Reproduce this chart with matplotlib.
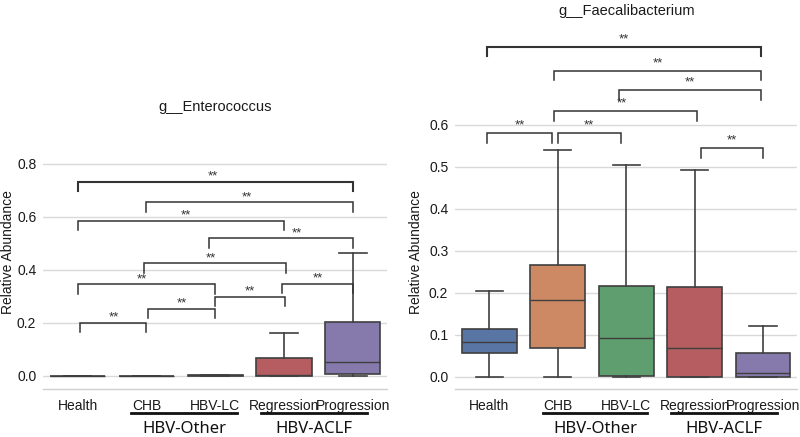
import numpy as np
import matplotlib.pyplot as plt
import matplotlib.transforms as mtransforms
import seaborn as sns

plt.rcParams['font.family'] = ['Liberation Sans', 'DejaVu Sans']

groups = ['Health', 'CHB', 'HBV-LC', 'Regression', 'Progression']

# g__Enterococcus (box summary)
ent_whislo = [0.0, 0.0, 0.0, 0.0, 0.0]
ent_q1 = [0.0, 0.0, 0.001, 0.0, 0.007]
ent_med = [0.0, 0.0, 0.002, 0.003, 0.053]
ent_q3 = [0.0, 0.0, 0.003, 0.068, 0.205]
ent_whishi = [0.0, 0.0, 0.003, 0.162, 0.463]

# g__Faecalibacterium
fae_whislo = [0.0, 0.0, 0.0, 0.0, 0.0]
fae_q1 = [0.056, 0.068, 0.002, 0.001, 0.001]
fae_med = [0.083, 0.183, 0.092, 0.070, 0.010]
fae_q3 = [0.115, 0.267, 0.217, 0.213, 0.056]
fae_whishi = [0.205, 0.540, 0.505, 0.493, 0.121]

# significance brackets: pair of groups, bar height
ent_pairs = [(0, 4), (1, 4), (0, 3), (2, 4), (1, 3), (0, 2), (3, 4), (2, 3), (1, 2), (0, 1)]
ent_heights = [0.733, 0.654, 0.585, 0.520, 0.425, 0.346, 0.347, 0.299, 0.253, 0.201]
ent_nudge = [(0, 0), (0, 0), (0, 0), (-0.09, 0), (-0.03, 0.03), (0, 0), (-0.03, 0), (0, 0.02), (0.02, 0), (0.03, -0.01)]
ent_star_dx = [-0.03, -0.04, 0.07, 0.23, -0.06, -0.06, 0, 0, 0, 0.01]

fae_pairs = [(0, 4), (1, 4), (2, 4), (1, 3), (0, 1), (1, 2), (3, 4)]
fae_heights = [0.786, 0.729, 0.683, 0.633, 0.580, 0.580, 0.544]
fae_nudge = [(-0.03, -0.03), (-0.05, -0.03), (-0.1, -0.03), (-0.05, 0.04), (-0.03, -0.09), (0.0, -0.08), (0.09, 0.0)]
fae_star_dx = [0, 0, 0, -0.06, 0, 0, 0]
sig_label = '**'

group_names = ['HBV-Other', 'HBV-ACLF']
group_span = [(0.78, 2.31), (2.66, 4.2)]
group_center = [1.55, 3.43]

palette = [sns.desaturate(c, 0.75) for c in sns.color_palette('deep', 5)]
edge = '#3f3f3f'

fig = plt.figure(figsize=(8, 4.37), dpi=100)
ax1 = fig.add_axes([0.054, 0.110, 0.430, 0.616])
ax2 = fig.add_axes([0.569, 0.110, 0.4275, 0.8375])


def draw_panel(ax, title, whislo, q1, med, q3, whishi, ylim, yticks,
               pairs, heights, nudge, star_dx, star_off, label_x, label_y):
    stats = []
    for i in range(len(groups)):
        stats.append(dict(whislo=whislo[i], q1=q1[i], med=med[i], q3=q3[i],
                          whishi=whishi[i], fliers=[]))
    bp = ax.bxp(stats, positions=np.arange(len(groups)), widths=0.8,
                patch_artist=True, showfliers=False,
                boxprops=dict(edgecolor=edge, linewidth=1.2),
                medianprops=dict(color=edge, linewidth=1.0),
                whiskerprops=dict(color=edge, linewidth=1.2),
                capprops=dict(color=edge, linewidth=1.2))
    for patch, c in zip(bp['boxes'], palette):
        patch.set_facecolor(c)

    ax.set_xlim(-0.5, len(groups) - 0.5)
    ax.set_ylim(*ylim)
    ax.set_yticks(yticks)
    ax.set_yticklabels(['%.1f' % t for t in yticks])
    ax.set_xticks(np.arange(len(groups)))
    ax.set_xticklabels(groups)
    ax.yaxis.grid(True, color='#d9d9d9', linewidth=1.0)
    ax.set_axisbelow(True)
    for s in ['top', 'right', 'left']:
        ax.spines[s].set_visible(False)
    ax.spines['bottom'].set_color('#d0d0d0')
    ax.spines['bottom'].set_linewidth(1.0)
    ax.tick_params(axis='both', length=0, labelsize=10, colors='#1a1a1a')
    ax.tick_params(axis='x', pad=7)
    ax.tick_params(axis='y', pad=5)
    ax.set_ylabel('Relative Abundance', fontsize=10, color='#1a1a1a')
    ax.yaxis.set_label_coords(label_x, label_y)
    ax.set_title(title, fontsize=10.5, color='#1a1a1a', pad=6)

    # bracket tip length of about 9.5 px
    ax_h = ax.get_position().height * fig.get_figheight() * fig.dpi
    tip = (ylim[1] - ylim[0]) * 9.5 / ax_h
    for (i, j), h, (di, dj), sx in zip(pairs, heights, nudge, star_dx):
        x0, x1 = i + di, j + dj
        lw = 1.5 if (i, j) == (0, 4) else 1.1
        ax.plot([x0, x0, x1, x1], [h - tip, h, h, h - tip], color='#333333',
                linewidth=lw, solid_joinstyle='miter')
        ax.annotate(sig_label, xy=((x0 + x1) / 2 + sx, h), xytext=(0, star_off),
                    textcoords='offset points', ha='center', va='baseline',
                    fontsize=9.5, color='#333333')

    trans = mtransforms.blended_transform_factory(ax.transData, fig.transFigure)
    for name, (a, b), c in zip(group_names, group_span, group_center):
        ax.plot([a, b], [0.055, 0.055], transform=trans, color='#111111',
                linewidth=2.0, clip_on=False)
        ax.text(c, 0.019, name, transform=trans, ha='center', va='center',
                fontsize=12, family=['Noto Sans', 'DejaVu Sans'],
                color='#111111')


draw_panel(ax1, 'g__Enterococcus', ent_whislo, ent_q1, ent_med, ent_q3, ent_whishi,
           (-0.049, 0.966), [0.0, 0.2, 0.4, 0.6, 0.8],
           ent_pairs, ent_heights, ent_nudge, ent_star_dx, 1.5, -0.082, 0.51)
draw_panel(ax2, 'g__Faecalibacterium', fae_whislo, fae_q1, fae_med, fae_q3, fae_whishi,
           (-0.0286, 0.843), [0.0, 0.1, 0.2, 0.3, 0.4, 0.5, 0.6],
           fae_pairs, fae_heights, fae_nudge, fae_star_dx, 3.5, -0.094, 0.374)

fig.savefig('out.png', dpi=100)
